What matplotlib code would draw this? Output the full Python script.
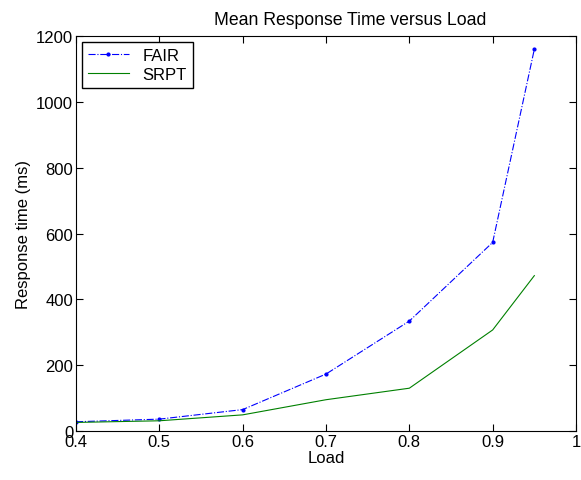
import matplotlib
matplotlib.use("Agg")
import matplotlib.pyplot as plt

plt.rcParams.update(
    {
        "font.family": ["Liberation Sans", "DejaVu Sans"],
        "font.size": 11,
        "xtick.direction": "in",
        "ytick.direction": "in",
        "xtick.top": True,
        "ytick.right": True,
        "xtick.major.size": 5,
        "ytick.major.size": 5,
    }
)

# Data
load = [0.4, 0.5, 0.6, 0.7, 0.8, 0.9, 0.95]
fair = [28, 36, 65, 173, 334, 573, 1160]
srpt = [26, 31, 49, 95, 130, 307, 472]

fig = plt.figure(figsize=(5.81, 4.81), dpi=100)
ax = fig.add_axes([0.1308, 0.1019, 0.8606, 0.8211])

ax.plot(load, fair, color="blue", ls="-.", marker=".", markersize=4, lw=0.8, label="FAIR")
ax.plot(load, srpt, color="green", ls="-", lw=0.8, label="SRPT")

ax.set_xlim(0.4, 1.0)
ax.set_ylim(0, 1200)
ax.set_xticks([0.4, 0.5, 0.6, 0.7, 0.8, 0.9, 1.0])
ax.set_xticklabels(["0.4", "0.5", "0.6", "0.7", "0.8", "0.9", "1"])
ax.set_yticks([0, 200, 400, 600, 800, 1000, 1200])
ax.tick_params(labelsize=12, pad=2)

ax.set_xlabel("Load", fontsize=12, labelpad=1)
ax.set_ylabel("Response time (ms)", fontsize=12, labelpad=4)
# MATLAB put the title slightly right of centre
ax.text(0.548, 1.03, "Mean Response Time versus Load", fontsize=12.7,
        ha="center", va="baseline", transform=ax.transAxes)

leg = ax.legend(loc="upper left", fontsize=12, fancybox=False, framealpha=1,
                edgecolor="black", borderaxespad=0.35, handlelength=2.5,
                borderpad=0.35, labelspacing=0.25)
leg.get_frame().set_linewidth(1.0)

fig.savefig("out.png", dpi=100)
